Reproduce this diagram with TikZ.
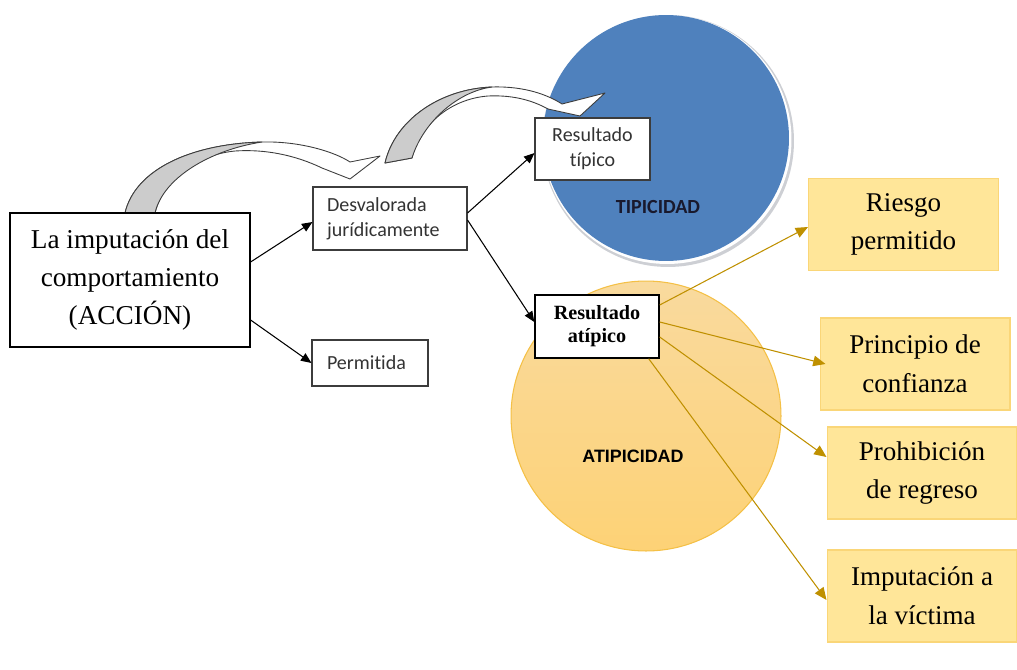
\documentclass[tikz,border=0pt]{standalone}
\usepackage{fontspec}
\setmainfont{Liberation Serif}
\newfontfamily\calibri[Ligatures=NoCommon]{Carlito}
\newfontfamily\arialfont{Liberation Sans}
\usetikzlibrary{arrows.meta}

\definecolor{tipblue}{RGB}{79,129,189}
\definecolor{ringgray}{RGB}{205,207,212}
\definecolor{atiptop}{RGB}{249,218,158}
\definecolor{atipbottom}{RGB}{253,210,118}
\definecolor{atipedge}{RGB}{244,192,70}
\definecolor{causefill}{RGB}{255,230,153}
\definecolor{causeedge}{RGB}{250,214,120}
\definecolor{golden}{RGB}{191,144,0}
\definecolor{bandgray}{RGB}{204,204,204}
\definecolor{bandline}{RGB}{60,60,60}

\begin{document}
\begin{tikzpicture}[x=0.02cm, y=-0.02cm,
    mainbox/.style={draw=black, line width=0.7pt, fill=white, minimum width=4.8cm, minimum height=2.68cm, align=center, font=\fontsize{15.5}{21.5}\selectfont},
    calbox/.style={draw=bandline, line width=0.6pt, fill=white, inner ysep=0pt, font=\calibri\fontsize{11.4}{14.4}\selectfont, text=black!80},
    causebox/.style={draw=causeedge, line width=0.6pt, fill=causefill, minimum width=3.8cm, minimum height=1.84cm, align=center, font=\fontsize{15.4}{22}\selectfont},
    blk/.style={-{Triangle[length=6pt, width=5pt]}, line width=0.6pt},
    gold/.style={-{Triangle[length=7pt, width=6pt]}, draw=golden, line width=0.6pt},
    band/.style={draw=bandline, line width=0.5pt, line join=round}]

    \useasboundingbox (0,0) rectangle (1017,669);

    % circles
    \fill[ringgray] (668,141) circle (2.52cm);
    \fill[white] (667,139.5) circle (2.49cm);
    \fill[tipblue] (666,138) circle (2.46cm);
    \shade[top color=atiptop, bottom color=atipbottom] (646,416) circle (2.7cm);
    \draw[atipedge, line width=0.6pt] (646,416) circle (2.7cm);

    \node[font=\calibri\bfseries\fontsize{11.4}{13}\selectfont, text={rgb,255:red,25;green,25;blue,45}] (tiplabel) at (658,207) {TIPICIDAD};
    \node[font=\arialfont\bfseries\fontsize{10.2}{12}\selectfont] (atiplabel) at (633,456) {ATIPICIDAD};

    % curved block arrows
    \filldraw[band, fill=white] (125,213) .. controls (135,170) and (190,144) .. (262,142)
        .. controls (300,141) and (335,152) .. (350,162) -- (380,156) -- (350,179) -- (322,168)
        .. controls (295,155) and (265,149) .. (235,151) .. controls (195,155) and (163,180) .. (155,213) -- cycle;
    \filldraw[band, fill=bandgray] (125,213) .. controls (135,170) and (190,144) .. (262,142)
        .. controls (210,150) and (163,178) .. (155,213) -- cycle;

    \filldraw[band, fill=white] (385,163) .. controls (395,120) and (440,89) .. (492,87)
        .. controls (525,86) and (548,95) .. (562,104) -- (605,93) -- (580,116) -- (548,109)
        .. controls (530,99) and (510,95) .. (488,96) .. controls (450,99) and (420,125) .. (412,158) -- cycle;
    \filldraw[band, fill=bandgray] (385,163) .. controls (395,120) and (440,89) .. (492,87)
        .. controls (455,92) and (422,125) .. (412,158) -- cycle;

    % boxes
    \node[mainbox] (accion) at (130,280) {La imputación del\\comportamiento\\(ACCIÓN)};
    \node[calbox, inner xsep=0.28cm, text width=2.52cm, minimum height=1.26cm, align=left] (desvalorada) at (390,218.5) {Desvalorada\\jurídicamente};
    \node[calbox, inner xsep=0.3cm, text width=1.72cm, minimum height=0.92cm, align=left] (permitida) at (370,363) {Permitida};
    \node[calbox, minimum width=2.3cm, minimum height=1.24cm, align=center] (tipico) at (592.5,149) {Resultado\\típico};
    \node[draw=black, line width=0.8pt, fill=white, inner sep=0pt, minimum width=2.48cm, minimum height=1.26cm, align=center, font=\bfseries\fontsize{11.5}{13}\selectfont] (atipico) at (597,326.5) {Resultado\\atípico};

    \node[causebox] (riesgo) at (903.5,224.5) {Riesgo\\permitido};
    \node[causebox] (confianza) at (915,364) {Principio de\\confianza};
    \node[causebox] (regreso) at (922,473) {Prohibición\\de regreso};
    \node[causebox] (victima) at (922,596) {Imputación a\\la víctima};

    % connectors
    \draw[blk] ([yshift=0.36cm]accion.east) -- ([yshift=-0.07cm]desvalorada.west);
    \draw[blk] ([yshift=-0.8cm]accion.east) -- (permitida.west);
    \draw[blk] ([yshift=0.11cm]desvalorada.east) -- ([yshift=-0.08cm]tipico.west);
    \draw[blk] ([yshift=-0.03cm]desvalorada.east) -- ([yshift=0.09cm]atipico.west);

    \draw[gold] ([yshift=0.43cm]atipico.east) -- ([yshift=-0.05cm]riesgo.west);
    \draw[gold] ([yshift=0.09cm]atipico.east) -- ([xshift=0.12cm]confianza.west);
    \draw[gold] ([yshift=-0.21cm]atipico.east) -- ([yshift=0.32cm]regreso.west);
    \draw[gold] ([xshift=-0.22cm]atipico.south east) -- ([yshift=-0.08cm]victima.west);
\end{tikzpicture}
\end{document}
